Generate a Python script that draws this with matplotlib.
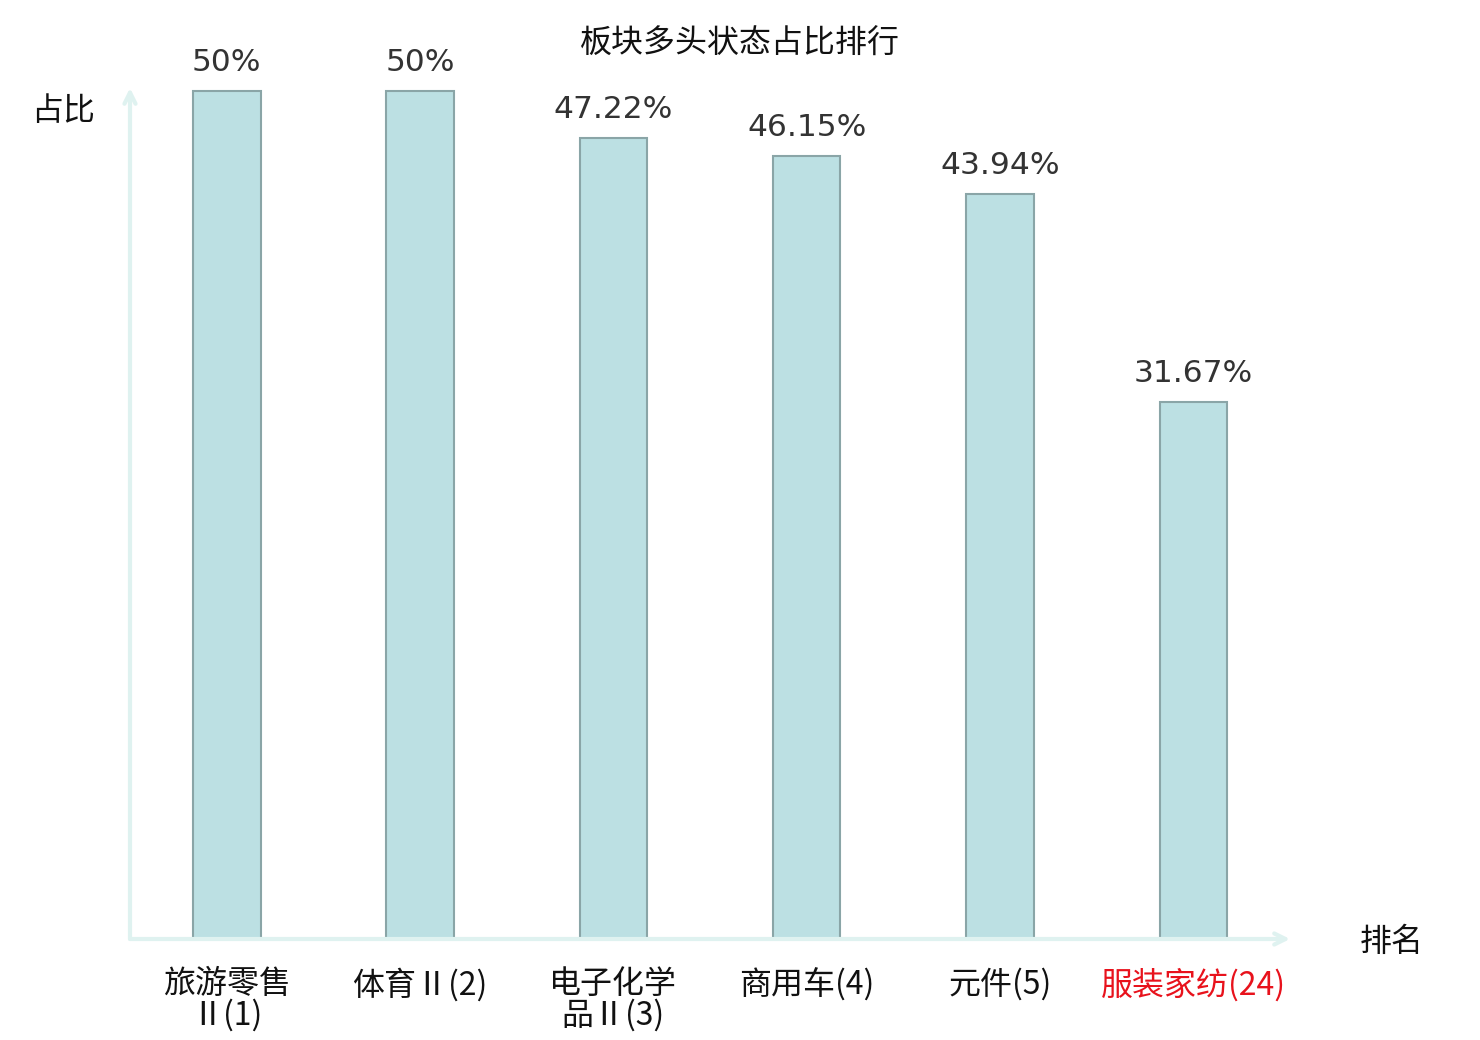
import matplotlib
matplotlib.use('Agg')
import matplotlib.pyplot as plt

plt.rcParams['font.family'] = ['Noto Sans CJK SC', 'DejaVu Sans']

categories = ['旅游零售\nⅡ(1)', '体育Ⅱ(2)', '电子化学\n品Ⅱ(3)', '商用车(4)', '元件(5)', '服装家纺(24)']
values = [50, 50, 47.22, 46.15, 43.94, 31.67]
value_labels = ['50%', '50%', '47.22%', '46.15%', '43.94%', '31.67%']
label_colors = ['#111111', '#111111', '#111111', '#111111', '#111111', '#e8121c']

W, H = 1480, 1040
fig = plt.figure(figsize=(W / 100, H / 100), dpi=100)
ax = fig.add_axes([130 / W, (H - 939) / H, 1160 / W, (939 - 88) / H])

x = list(range(len(categories)))
ax.bar(x, values, width=0.35, color='#bce0e3', edgecolor='#8aa5a7', linewidth=1.5)
ax.set_xlim(-0.5, 5.5)
ax.set_ylim(0, 50 * 851 / 848)

for xi, v, lab in zip(x, values, value_labels):
    ax.annotate(lab, (xi, v), xytext=(0, 10), textcoords='offset points',
                ha='center', va='bottom', fontsize=22.5, color='#333333',
                family='DejaVu Sans')

for s in ax.spines.values():
    s.set_visible(False)
ax.set_yticks([])
ax.set_xticks(x)
ax.set_xticklabels(categories, fontsize=23, linespacing=0.95)
ax.tick_params(axis='x', length=0, pad=21)
for t, c in zip(ax.get_xticklabels(), label_colors):
    t.set_color(c)

# axis arrows
axis_col = '#dff2f0'
ax.annotate('', xy=(0, 1.0), xytext=(0, 0), xycoords='axes fraction',
            arrowprops=dict(arrowstyle='->,head_width=0.4,head_length=0.8', color=axis_col, lw=3,
                            shrinkA=0, shrinkB=0))
ax.annotate('', xy=(1.0, 0), xytext=(0, 0), xycoords='axes fraction',
            arrowprops=dict(arrowstyle='->,head_width=0.4,head_length=0.8', color=axis_col, lw=3,
                            shrinkA=0, shrinkB=0))

fig.text(63 / W, 1 - 111 / H, '占比', ha='center', va='center', fontsize=23, color='#111111')
fig.text(1392 / W, 1 - 942 / H, '排名', ha='center', va='center', fontsize=23, color='#111111')
fig.text(740 / W, 1 - 44 / H, '板块多头状态占比排行', ha='center', va='center', fontsize=23, color='#111111')

fig.savefig('out.png', dpi=100)
